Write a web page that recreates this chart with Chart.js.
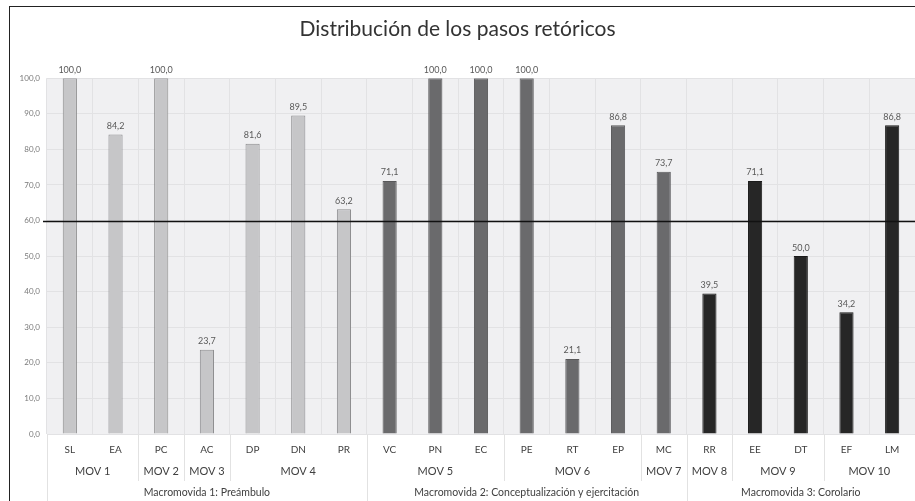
<!DOCTYPE html>
<html>
<head>
<meta charset="utf-8">
<script src="https://cdn.jsdelivr.net/npm/chart.js@4.4.1/dist/chart.umd.min.js"></script>
<style>
  body { margin: 0; background: #fff; }
  canvas { display: block; }
</style>
</head>
<body>
<canvas id="pasosCanvas" width="915" height="501"></canvas>
<script>
var pasos = ['SL', 'EA', 'PC', 'AC', 'DP', 'DN', 'PR', 'VC', 'PN', 'EC', 'PE', 'RT', 'EP', 'MC', 'RR', 'EE', 'DT', 'EF', 'LM'];
var valores = [100.0, 84.2, 100.0, 23.7, 81.6, 89.5, 63.2, 71.1, 100.0, 100.0, 100.0, 21.1, 86.8, 73.7, 39.5, 71.1, 50.0, 34.2, 86.8];
var movidas = ['MOV 1', 'MOV 2', 'MOV 3', 'MOV 4', 'MOV 5', 'MOV 6', 'MOV 7', 'MOV 8', 'MOV 9', 'MOV 10'];
var movidaSpans = [2, 1, 1, 3, 3, 3, 1, 1, 2, 2];
var macromovidas = ['Macromovida 1: Preámbulo', 'Macromovida 2: Conceptualización y ejercitación', 'Macromovida 3: Corolario'];
var macroSpans = [7, 7, 5];
var umbral = 60;
var yTicks = [0, 10, 20, 30, 40, 50, 60, 70, 80, 90, 100];

var FONT = 'Lato, "Open Sans", sans-serif';
var fills = ['#c6c6c8', '#6a6a6c', '#262626'];
var borders = ['#8c8c8e', '#58585a', '#1a1a1a'];

function macroIndex(i) {
    var acc = 0;
    for (var g = 0; g < macroSpans.length; g++) {
        acc += macroSpans[g];
        if (i < acc) return g;
    }
    return macroSpans.length - 1;
}

function fmt(v) {
    return v.toFixed(1).replace('.', ',');
}

var extras = {
    id: 'extras',
    beforeDraw: function(chart) {
        var c = chart.ctx;
        c.save();
        c.strokeStyle = '#222';
        c.lineWidth = 1;
        c.strokeRect(9.5, 6.5, 930, 520);
        c.restore();
    },
    afterDatasetsDraw: function(chart) {
        var c = chart.ctx;
        var xs = chart.scales.x, ys = chart.scales.y;
        var area = chart.chartArea;
        var meta = chart.getDatasetMeta(0);

        // value labels
        c.save();
        c.font = '9px ' + FONT;
        c.fillStyle = '#595959';
        c.textAlign = 'center';
        c.textBaseline = 'bottom';
        meta.data.forEach(function(bar, i) {
            c.fillText(fmt(valores[i]), bar.x, bar.y - 4);
        });
        c.restore();

        // threshold line
        var yU = Math.round(ys.getPixelForValue(umbral)) + 0.5;
        c.save();
        c.strokeStyle = '#111';
        c.lineWidth = 1.6;
        c.beginPath();
        c.moveTo(area.left - 4, yU);
        c.lineTo(chart.width, yU);
        c.stroke();
        c.restore();

        // grouped axis rows
        var half = (xs.getPixelForValue(1) - xs.getPixelForValue(0)) / 2;
        var bottom = area.bottom;
        c.save();
        c.strokeStyle = '#e2e2e2';
        c.lineWidth = 1;
        c.fillStyle = '#404040';
        c.textAlign = 'center';
        c.textBaseline = 'middle';

        // left edge
        c.beginPath();
        c.moveTo(area.left + 0.5, bottom);
        c.lineTo(area.left + 0.5, chart.height);
        c.stroke();

        c.font = '11px ' + FONT;
        var start = 0;
        movidaSpans.forEach(function(n, g) {
            var x0 = xs.getPixelForValue(start) - half;
            var x1 = xs.getPixelForValue(start + n - 1) + half;
            c.fillText(movidas[g], (x0 + x1) / 2, bottom + 37);
            if (g < movidaSpans.length - 1) {
                c.beginPath();
                c.moveTo(Math.round(x1) + 0.5, bottom);
                c.lineTo(Math.round(x1) + 0.5, bottom + 47);
                c.stroke();
            }
            start += n;
        });

        c.font = '10.5px ' + FONT;
        start = 0;
        macroSpans.forEach(function(n, g) {
            var x0 = xs.getPixelForValue(start) - half;
            var x1 = xs.getPixelForValue(start + n - 1) + half;
            c.fillText(macromovidas[g], (x0 + x1) / 2, bottom + 59);
            if (g < macroSpans.length - 1) {
                c.beginPath();
                c.moveTo(Math.round(x1) + 0.5, bottom);
                c.lineTo(Math.round(x1) + 0.5, chart.height);
                c.stroke();
            }
            start += n;
        });
        c.restore();
    }
};

var plotBg = {
    id: 'plotBg',
    beforeDraw: function(chart) {
        var a = chart.chartArea;
        var c = chart.ctx;
        c.save();
        c.fillStyle = '#f0f0f2';
        c.fillRect(a.left, a.top, a.right - a.left, a.bottom - a.top);
        c.restore();
    }
};

new Chart(document.getElementById('pasosCanvas'), {
    type: 'bar',
    data: {
        labels: pasos,
        datasets: [{
            data: valores,
            backgroundColor: valores.map(function(v, i) { return fills[macroIndex(i)]; }),
            borderColor: valores.map(function(v, i) { return borders[macroIndex(i)]; }),
            borderWidth: 1,
            categoryPercentage: 1,
            barPercentage: 0.31
        }]
    },
    options: {
        responsive: false,
        animation: false,
        devicePixelRatio: 1,
        layout: { padding: { top: 2, right: 0, bottom: 0, left: 0 } },
        plugins: {
            legend: { display: false },
            tooltip: { enabled: false },
            title: {
                display: true,
                text: 'Distribución de los pasos retóricos',
                color: '#333',
                font: { family: FONT, size: 21, weight: 'normal' },
                padding: { top: 15, bottom: 36 }
            }
        },
        scales: {
            x: {
                grid: { color: '#e2e2e4', offset: true, drawTicks: false },
                border: { display: false },
                ticks: {
                    color: '#404040',
                    font: { family: FONT, size: 10 },
                    padding: 10,
                    maxRotation: 0,
                    autoSkip: false
                },
                afterFit: function(s) { s.height = 67; }
            },
            y: {
                min: 0,
                max: 100,
                afterBuildTicks: function(s) { s.ticks = yTicks.map(function(v) { return { value: v }; }); },
                grid: { color: '#e2e2e4', drawTicks: false },
                border: { display: false },
                ticks: {
                    color: '#7a7a7a',
                    font: { family: FONT, size: 8 },
                    padding: 7,
                    callback: function(v) { return fmt(v); }
                },
                afterFit: function(s) { s.width = 47; }
            }
        }
    },
    plugins: [plotBg, extras]
});
</script>
</body>
</html>
